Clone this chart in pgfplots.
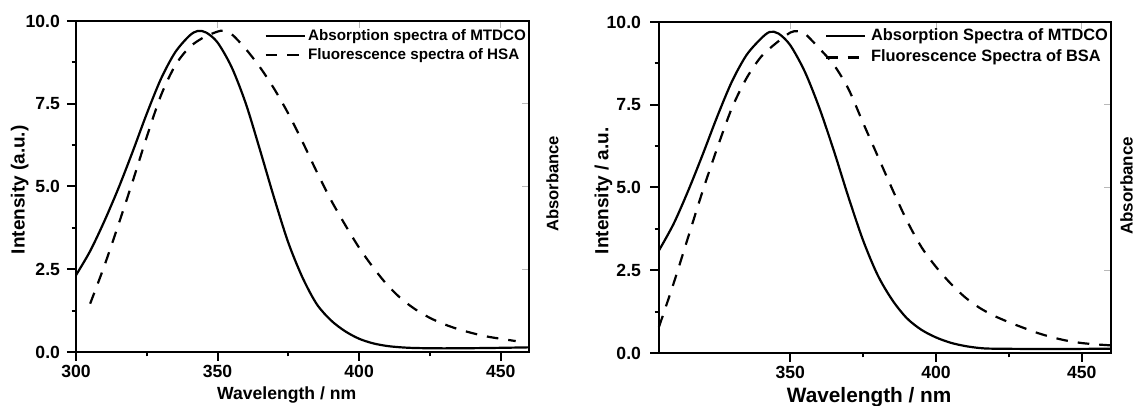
\documentclass[border=0pt]{standalone}
\usepackage{pgfplots}
\pgfplotsset{compat=1.18}
\usepackage{fontspec}
\setmainfont{Liberation Sans}

\pgfplotstableread{
x y
300 2.32
305 3.05
310 3.95
315 4.95
320 6.05
325 7.2
330 8.25
335 9.05
340 9.55
343 9.7
346 9.65
350 9.35
355 8.6
360 7.5
365 6.1
370 4.65
375 3.3
380 2.25
385 1.45
390 0.96
395 0.63
400 0.4
405 0.26
410 0.18
415 0.14
420 0.12
430 0.11
445 0.12
460 0.14
}\absL
\pgfplotstableread{
x y
305 1.46
310 2.6
315 3.85
320 5.15
325 6.5
330 7.75
335 8.65
340 9.2
345 9.5
350 9.68
352 9.7
355 9.6
360 9.15
365 8.6
370 7.95
375 7.2
380 6.35
385 5.45
390 4.6
395 3.85
400 3.15
405 2.55
410 2.02
415 1.6
420 1.28
425 1.03
430 0.84
435 0.69
440 0.57
445 0.47
450 0.4
455.3 0.33
}\fluL
\pgfplotstableread{
x y
305 3.1
310 3.9
315 4.9
320 6.0
325 7.15
330 8.2
335 9.0
340 9.5
343 9.7
346 9.65
350 9.3
355 8.5
360 7.4
365 6.1
370 4.7
375 3.4
380 2.35
385 1.6
390 1.05
395 0.7
400 0.47
405 0.31
410 0.21
415 0.15
420 0.13
440 0.12
460 0.13
}\absR
\pgfplotstableread{
x y
305 0.79
310 2.1
315 3.5
320 4.9
325 6.2
330 7.4
335 8.3
340 8.95
345 9.35
350 9.68
352.5 9.72
355 9.65
360 9.2
365 8.7
370 7.97
375 6.95
380 5.95
385 4.95
390 4.0
395 3.2
400 2.6
405 2.1
410 1.68
415 1.36
420 1.12
425 0.93
430 0.76
435 0.6
440 0.47
445 0.37
450 0.3
455 0.26
460 0.23
}\fluR

\pgfplotsset{
  specbase/.style={
    scale only axis, anchor=south west,
    height=165.5pt,
    ymin=0, ymax=10, ytick={0,2.5,5,7.5,10},
    minor x tick num=1, minor y tick num=1,
    tick align=outside, tick pos=left,
    major tick length=4.5pt, minor tick length=2.2pt,
    axis line style={line width=1.3pt},
    every tick/.style={black, line width=1pt},
    every minor tick/.style={black, line width=0.9pt},
    /pgf/number format/assume math mode=true,
    tick label style={font=\bfseries\fontsize{8.8}{10}\selectfont},
    yticklabel style={/pgf/number format/fixed, /pgf/number format/fixed zerofill, /pgf/number format/precision=1},
    xticklabel style={/pgf/number format/fixed, /pgf/number format/precision=0, /pgf/number format/1000 sep={}},
    clip=false,
    legend cell align=left,
  },
  tickoverlay/.style={
    scale only axis, anchor=south west,
    height=165.5pt,
    ymin=0, ymax=10, ytick={0,2.5,5,7.5,10},
    minor x tick num=1, minor y tick num=1,
    tick align=inside, tick pos=right,
    major tick length=3.5pt, minor tick length=0pt,
    axis line style={draw=none},
    every tick/.style={gray!55, line width=0.5pt},
    xticklabels={}, yticklabels={},
  },
}

\begin{document}
\begin{tikzpicture}[x=1pt,y=1pt]
\path[use as bounding box] (0,0) rectangle (568.5,203);

% ---------- left panel ----------
\begin{axis}[tickoverlay, at={(38pt,27pt)}, width=226.5pt, xmin=300, xmax=460, xtick={300,350,400,450}]
\end{axis}
\begin{axis}[specbase, at={(38pt,27pt)}, width=226.5pt,
  xmin=300, xmax=460, xtick={300,350,400,450},
  xlabel={Wavelength / nm}, ylabel={Intensity (a.u.)},
  every axis x label/.style={at={(axis description cs:0.465,-0.145)}, anchor=base, font=\bfseries\fontsize{8.8}{10}\selectfont},
  every axis y label/.style={at={(axis description cs:-0.1245,0.49)}, anchor=center, rotate=90, font=\bfseries\fontsize{9.5}{11}\selectfont},
  xticklabel style={anchor=base, yshift=-8.5pt},
  yticklabel style={anchor=east},
  legend style={at={(axis description cs:1,1)}, anchor=north east, xshift=-1.5pt, yshift=-3.7pt,
    draw=none, fill=none, inner sep=0pt, outer sep=0pt, row sep=1.6pt, column sep=1.2pt,
    font=\bfseries\fontsize{7.6}{9}\selectfont,
    nodes={inner sep=0pt, text height=6pt, text depth=1.8pt}},
  legend image code/.code={\draw[#1] (0pt,0pt) -- (19.5pt,0pt);},
]
\addplot[black, line width=1.1pt, smooth, tension=0.5] table[x=x,y=y] {\absL};
\addlegendentry{Absorption spectra of MTDCO}
\addplot[black, line width=1.1pt, dash pattern=on 5.8pt off 5pt, smooth, tension=0.5] table[x=x,y=y] {\fluL};
\addlegendentry{Fluorescence spectra of HSA}
\node[rotate=90, font=\bfseries\fontsize{8.3}{10}\selectfont] at (axis description cs:1.052,0.508) {Absorbance};
\end{axis}

% ---------- right panel ----------
\begin{axis}[tickoverlay, at={(329.5pt,26.5pt)}, width=226pt, xmin=305, xmax=460, xtick={350,400,450}]
\end{axis}
\begin{axis}[specbase, at={(329.5pt,26.5pt)}, width=226pt,
  xmin=305, xmax=460, xtick={350,400,450},
  xlabel={Wavelength / nm}, ylabel={Intensity / a.u.},
  every axis x label/.style={at={(axis description cs:0.465,-0.151)}, anchor=base, font=\bfseries\fontsize{10.4}{12}\selectfont},
  every axis y label/.style={at={(axis description cs:-0.1228,0.49)}, anchor=center, rotate=90, font=\bfseries\fontsize{9.5}{11}\selectfont},
  xticklabel style={anchor=base, yshift=-8.5pt},
  yticklabel style={anchor=east, xshift=-1pt},
  legend style={at={(axis description cs:1,1)}, anchor=north east, xshift=-1.5pt, yshift=-2.8pt,
    draw=none, fill=none, inner sep=0pt, outer sep=0pt, row sep=2.2pt, column sep=2.4pt,
    font=\bfseries\fontsize{8.2}{10}\selectfont,
    nodes={inner sep=0pt, text height=6.5pt, text depth=2pt}},
  legend image code/.code={\draw[#1] (0pt,0pt) -- (19.6pt,0pt);},
]
\addplot[black, line width=1.1pt, smooth, tension=0.5] table[x=x,y=y] {\absR};
\addlegendentry{Absorption Spectra of MTDCO}
\addplot[black, line width=1.1pt, dash pattern=on 5.8pt off 5pt, smooth, tension=0.5] table[x=x,y=y] {\fluR};
\addlegendentry{Fluorescence Spectra of BSA}
\node[rotate=90, anchor=base, inner sep=0pt, font=\bfseries\fontsize{8.5}{10}\selectfont] at (axis description cs:1.048,0.505) {Absorbance};
\end{axis}
\end{tikzpicture}
\end{document}
